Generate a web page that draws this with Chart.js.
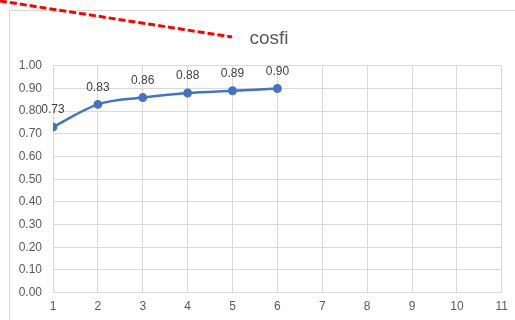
<!DOCTYPE html>
<html>
<head>
<meta charset="utf-8">
<script src="https://cdn.jsdelivr.net/npm/chart.js@4"></script>
<style>
  html, body { margin: 0; padding: 0; background: #fff; }
  #wrap { width: 515px; height: 320px; }
</style>
</head>
<body>
<div id="wrap"><canvas id="chart-cosfi"></canvas></div>
<script>
// cos(phi) per step
const steps = [1, 2, 3, 4, 5, 6];
const cosfi = [0.73, 0.83, 0.86, 0.88, 0.89, 0.90];
const xTicks = [1, 2, 3, 4, 5, 6, 7, 8, 9, 10, 11];
const yTicks = [0, 0.1, 0.2, 0.3, 0.4, 0.5, 0.6, 0.7, 0.8, 0.9, 1.0];

const FONT = "'Liberation Sans', Arial, sans-serif";
const GRID = '#d9d9d9';
const BLUE = '#4472c4';

// outer frame + red dashed callout; title box nudged right
const frame = {
  id: 'frame',
  afterLayout(chart){
    const t = chart.titleBlock;
    if(t){ t.left += 25; t.width -= 25; }
  },
  beforeDraw(chart){
    const c = chart.ctx;
    c.save();
    c.strokeStyle = GRID;
    c.lineWidth = 1;
    c.strokeRect(9.5, 10.5, 700, 500);
    c.restore();
  },
  afterDraw(chart){
    const c = chart.ctx;
    c.save();
    c.strokeStyle = '#ff0000';
    c.lineWidth = 3;
    c.setLineDash([7, 3]);
    c.beginPath();
    c.moveTo(0, 1);
    c.lineTo(232, 37);
    c.stroke();
    c.restore();
  }
};

// value labels above each point
const valueLabels = {
  id: 'valueLabels',
  afterDatasetsDraw(chart){
    const c = chart.ctx;
    const meta = chart.getDatasetMeta(0);
    c.save();
    c.font = '12px ' + FONT;
    c.fillStyle = '#404040';
    c.textAlign = 'center';
    c.textBaseline = 'middle';
    meta.data.forEach((pt, i) => {
      c.fillText(cosfi[i].toFixed(2), pt.x, pt.y - 17);
    });
    c.restore();
  }
};

new Chart(document.getElementById('chart-cosfi'), {
  type: 'line',
  data: {
    datasets: [{
      label: 'cosfi',
      data: steps.map((s, i) => ({ x: s, y: cosfi[i] })),
      borderColor: BLUE,
      backgroundColor: BLUE,
      borderWidth: 2.5,
      pointRadius: 3.2,
      pointHoverRadius: 3.2,
      cubicInterpolationMode: 'monotone'
    }]
  },
  options: {
    responsive: true,
    maintainAspectRatio: false,
    animation: false,
    layout: { padding: { left: 9, right: 11, top: 18, bottom: -1 } },
    plugins: {
      legend: { display: false },
      tooltip: { enabled: false },
      title: {
        display: true,
        text: 'cosfi',
        color: '#595959',
        font: { family: FONT, size: 19, weight: 'normal' },
        padding: { top: 9, bottom: 16 }
      }
    },
    scales: {
      x: {
        type: 'linear',
        min: xTicks[0],
        max: xTicks[xTicks.length - 1],
        afterBuildTicks: s => { s.ticks = xTicks.map(v => ({ value: v })); },
        grid: { color: GRID, drawTicks: false },
        border: { color: GRID },
        ticks: { color: '#595959', font: { family: FONT, size: 12 }, padding: 7, maxRotation: 0 }
      },
      y: {
        min: yTicks[0],
        max: yTicks[yTicks.length - 1],
        afterBuildTicks: s => { s.ticks = yTicks.map(v => ({ value: v })); },
        afterFit: s => { s.width = 44; },
        grid: { color: GRID, drawTicks: false },
        border: { display: false },
        ticks: {
          color: '#595959',
          font: { family: FONT, size: 12 },
          padding: 11,
          callback: v => Number(v).toFixed(2)
        }
      }
    }
  },
  plugins: [frame, valueLabels]
});
</script>
</body>
</html>
